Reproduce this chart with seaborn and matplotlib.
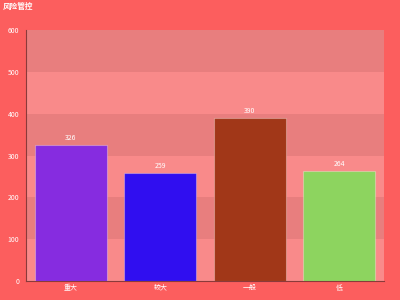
import matplotlib
matplotlib.use("Agg")
import matplotlib.pyplot as plt
import seaborn as sns
import pandas as pd

categories = ["重大", "较大", "一般", "低"]
values = [326, 259, 390, 264]
bar_colors = ["#862CE0", "#300EF0", "#A13718", "#8DD45F"]
y_ticks = [0, 100, 200, 300, 400, 500, 600]
title = "风险管控"

sns.set_theme(style="white")
plt.rcParams['font.family'] = ['Noto Sans CJK SC', 'DejaVu Sans']

bg = "#FC5E5E"
band_dark = "#E87E7E"
band_light = "#F98A8A"

fig = plt.figure(figsize=(4, 3), dpi=100, facecolor=bg)
ax = fig.add_axes([0.065, 0.0633, 0.895, 0.8367])
ax.set_facecolor(bg)

for i in range(len(y_ticks) - 1):
    ax.axhspan(y_ticks[i], y_ticks[i + 1], color=band_light if i % 2 == 0 else band_dark,
               lw=0, zorder=0)

df = pd.DataFrame({"cat": categories, "val": values})
sns.barplot(data=df, x="cat", y="val", hue="cat", palette=bar_colors, legend=False,
            width=0.8, ax=ax, zorder=2, edgecolor=(1, 1, 1, 0.3), linewidth=0.8,
            saturation=1)

for i, v in enumerate(values):
    ax.text(i, v + 6, str(v), ha="center", va="bottom", color="white", fontsize=5)

ax.set_xlim(-0.5, len(categories) - 0.5)
ax.set_ylim(0, 600)
ax.set_yticks(y_ticks)
ax.set_yticklabels([str(t) for t in y_ticks], color="white", fontsize=5)
ax.set_xticks(range(len(categories)))
ax.set_xticklabels(categories, color="white", fontsize=5)
ax.tick_params(axis="x", length=0, pad=2)
ax.set_xticks([i - 0.5 for i in range(len(categories) + 1)], minor=True)
ax.tick_params(axis="x", which="minor", length=3, color="#8B3A3A", width=0.8, direction="out")
ax.tick_params(axis="y", length=3, color="#8B3A3A", width=0.8, pad=2)
ax.set_xlabel("")
ax.set_ylabel("")

for s in ["top", "right"]:
    ax.spines[s].set_visible(False)
for s in ["left", "bottom"]:
    ax.spines[s].set_color("#8B3A3A")
    ax.spines[s].set_linewidth(0.8)

fig.text(0.008, 0.993, title, color="white", fontsize=5.5, fontweight="bold", ha="left", va="top")

fig.savefig("out.png", dpi=100, facecolor=bg)
